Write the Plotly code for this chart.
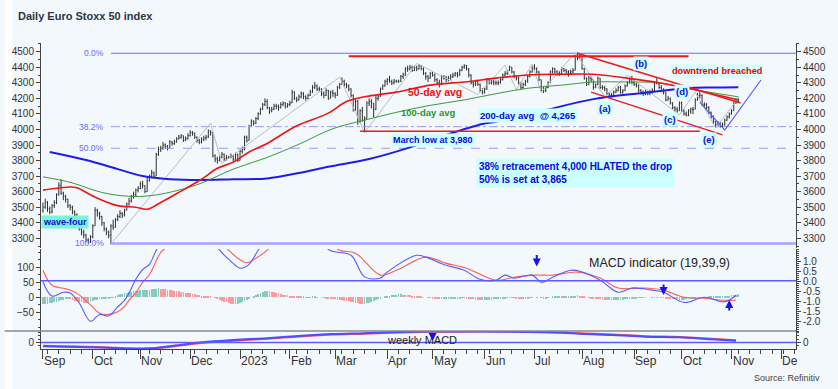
import pandas as pd
import plotly.graph_objects as go

FONT = "Liberation Sans, Arial, sans-serif"

# ---------------- daily Euro Stoxx 50 bars (trading days from 2022-09-01) ----------------
first_open = 3480
close = [
    3500, 3530,
    3490, 3470, 3510, 3530, 3580,
    3640, 3590, 3570, 3550, 3510,
    3500, 3470, 3450, 3420, 3360,
    3340, 3320, 3290, 3280, 3310,
    3380, 3480, 3460, 3440, 3400,
    3360, 3340, 3320, 3380, 3370,
    3420, 3440, 3460, 3450, 3480,
    3520, 3540, 3570, 3580, 3610,
    3620, 3650, 3640, 3600, 3670,
    3700, 3720, 3700, 3840, 3870,
    3880, 3900, 3890, 3880, 3920,
    3910, 3920, 3940, 3950, 3960,
    3930, 3940, 3960, 3980, 3975,
    3950, 3930, 3920, 3935, 3945,
    3950, 3990, 3980, 3830, 3810,
    3800, 3820, 3840, 3810, 3820,
    3820, 3830, 3810, 3840, 3800,
    3860, 3870, 3950, 3930, 4020,
    4050, 4040, 4070, 4100, 4130,
    4160, 4180, 4140, 4120, 4130,
    4150, 4150, 4140, 4160, 4170,
    4150, 4160, 4170, 4240, 4200,
    4190, 4210, 4230, 4210, 4200,
    4220, 4240, 4270, 4280, 4260,
    4260, 4230, 4220, 4250, 4200,
    4240, 4230, 4220, 4270, 4290,
    4310, 4290, 4280, 4260, 4220,
    4130, 4180, 4060, 4120, 4060,
    4070, 4170, 4180, 4170, 4130,
    4200, 4210, 4260, 4280, 4310,
    4320, 4310, 4300, 4310, 4310,
    4310, 4340, 4350, 4390, 4390,
    4400, 4380, 4400, 4390, 4410,
    4390, 4360, 4340, 4330, 4360,
    4350, 4320, 4300, 4290, 4340,
    4330, 4320, 4330, 4340, 4350,
    4360, 4350, 4380, 4400, 4410,
    4390, 4350, 4300, 4290, 4310,
    4290, 4250, 4240, 4260, 4320,
    4300, 4310, 4300, 4300, 4300,
    4320, 4350, 4360, 4380, 4400,
    4370, 4340, 4330, 4300, 4270,
    4290, 4310, 4340, 4370, 4400,
    4390, 4370, 4320, 4250, 4250,
    4270, 4300, 4370, 4390, 4370,
    4360, 4360, 4390, 4380, 4370,
    4360, 4370, 4380, 4470, 4460,
    4470, 4390, 4330, 4290, 4330,
    4320, 4270, 4290, 4330, 4270,
    4270, 4260, 4230, 4220, 4220,
    4240, 4250, 4270, 4240, 4250,
    4280, 4300, 4320, 4300, 4290,
    4280, 4250, 4240, 4230, 4240,
    4230, 4240, 4250, 4300, 4300,
    4270, 4250, 4240, 4190, 4200,
    4170, 4140, 4130, 4120, 4170,
    4120, 4100, 4090, 4120, 4130,
    4130, 4190, 4220, 4220, 4160,
    4160, 4140, 4110, 4080, 4050,
    4030, 4040, 4020, 4030, 4060,
    4080, 4100, 4120, 4170, 4190,
    4180,
]
high = [
    3530, 3555,
    3540, 3505, 3520, 3545, 3590,
    3660, 3680, 3600, 3580, 3555,
    3520, 3510, 3480, 3460, 3425,
    3370, 3355, 3330, 3300, 3320,
    3390, 3500, 3490, 3470, 3445,
    3405, 3370, 3350, 3390, 3420,
    3430, 3455, 3480, 3470, 3490,
    3530, 3560, 3580, 3600, 3620,
    3635, 3665, 3670, 3640, 3690,
    3710, 3740, 3730, 3850, 3890,
    3895, 3920, 3910, 3900, 3930,
    3925, 3935, 3950, 3965, 3970,
    3960, 3955, 3975, 3995, 3990,
    3980, 3955, 3940, 3950, 3960,
    3965, 4000, 3995, 3980, 3840,
    3825, 3835, 3855, 3845, 3835,
    3830, 3845, 3835, 3850, 3845,
    3870, 3890, 3960, 3960, 4030,
    4065, 4060, 4080, 4110, 4140,
    4170, 4200, 4195, 4145, 4145,
    4165, 4165, 4160, 4175, 4180,
    4175, 4170, 4185, 4255, 4245,
    4210, 4225, 4245, 4240, 4220,
    4230, 4255, 4285, 4305, 4290,
    4275, 4265, 4245, 4265, 4255,
    4250, 4255, 4240, 4280, 4300,
    4335, 4320, 4300, 4290, 4265,
    4225, 4195, 4190, 4130, 4145,
    4085, 4180, 4200, 4195, 4170,
    4215, 4225, 4270, 4290, 4320,
    4330, 4345, 4320, 4325, 4320,
    4320, 4350, 4365, 4400, 4410,
    4415, 4410, 4410, 4410, 4420,
    4415, 4400, 4370, 4350, 4370,
    4370, 4360, 4330, 4320, 4350,
    4350, 4345, 4345, 4355, 4365,
    4370, 4370, 4390, 4410, 4420,
    4415, 4395, 4355, 4310, 4320,
    4320, 4295, 4265, 4270, 4330,
    4325, 4320, 4320, 4315, 4315,
    4330, 4360, 4375, 4385, 4410,
    4400, 4375, 4350, 4340, 4305,
    4300, 4320, 4350, 4380, 4410,
    4420, 4400, 4375, 4320, 4275,
    4280, 4310, 4380, 4400, 4395,
    4380, 4375, 4400, 4395, 4390,
    4380, 4385, 4395, 4480, 4495,
    4490, 4470, 4395, 4335, 4345,
    4340, 4320, 4300, 4340, 4330,
    4285, 4280, 4265, 4240, 4235,
    4250, 4265, 4280, 4280, 4260,
    4290, 4310, 4330, 4345, 4325,
    4300, 4290, 4260, 4250, 4255,
    4255, 4255, 4265, 4310, 4330,
    4300, 4285, 4265, 4240, 4215,
    4205, 4175, 4150, 4145, 4180,
    4180, 4130, 4115, 4130, 4140,
    4145, 4200, 4235, 4240, 4225,
    4175, 4170, 4150, 4115, 4090,
    4055, 4055, 4050, 4045, 4070,
    4090, 4110, 4130, 4180, 4200,
    4205,
]
low = [
    3465, 3490,
    3470, 3455, 3460, 3495, 3520,
    3575, 3580, 3545, 3530, 3495,
    3480, 3455, 3435, 3405, 3350,
    3320, 3300, 3275, 3265, 3270,
    3300, 3380, 3440, 3420, 3380,
    3345, 3320, 3300, 3262, 3355,
    3370, 3410, 3430, 3430, 3440,
    3480, 3510, 3530, 3555, 3570,
    3595, 3615, 3620, 3590, 3600,
    3665, 3690, 3690, 3700, 3830,
    3855, 3870, 3875, 3865, 3880,
    3895, 3900, 3915, 3935, 3940,
    3920, 3925, 3935, 3955, 3960,
    3940, 3915, 3905, 3910, 3925,
    3930, 3945, 3960, 3820, 3790,
    3780, 3795, 3815, 3795, 3800,
    3810, 3815, 3795, 3805, 3790,
    3800, 3845, 3865, 3915, 3930,
    4015, 4025, 4035, 4060, 4095,
    4125, 4150, 4130, 4100, 4110,
    4125, 4130, 4120, 4135, 4150,
    4135, 4140, 4150, 4170, 4190,
    4175, 4185, 4200, 4195, 4185,
    4195, 4215, 4235, 4260, 4245,
    4245, 4215, 4200, 4215, 4190,
    4200, 4210, 4200, 4215, 4260,
    4290, 4275, 4265, 4245, 4205,
    4115, 4120, 4030, 4040, 4050,
    3980, 4070, 4150, 4135, 4080,
    4125, 4185, 4210, 4255, 4275,
    4285, 4300, 4285, 4290, 4300,
    4300, 4305, 4325, 4345, 4370,
    4380, 4370, 4375, 4375, 4385,
    4380, 4350, 4320, 4305, 4325,
    4340, 4305, 4290, 4270, 4285,
    4320, 4305, 4310, 4320, 4330,
    4340, 4335, 4345, 4375, 4390,
    4380, 4335, 4290, 4270, 4280,
    4280, 4240, 4225, 4230, 4255,
    4290, 4290, 4285, 4285, 4285,
    4295, 4315, 4340, 4350, 4375,
    4360, 4330, 4315, 4290, 4255,
    4260, 4280, 4300, 4335, 4365,
    4380, 4360, 4310, 4240, 4235,
    4240, 4265, 4300, 4360, 4360,
    4345, 4345, 4355, 4370, 4360,
    4340, 4350, 4360, 4380, 4445,
    4450, 4385, 4320, 4280, 4285,
    4305, 4255, 4265, 4285, 4260,
    4255, 4245, 4220, 4210, 4205,
    4215, 4235, 4245, 4230, 4230,
    4250, 4275, 4295, 4290, 4280,
    4270, 4240, 4225, 4215, 4220,
    4220, 4220, 4230, 4245, 4290,
    4260, 4240, 4225, 4180, 4185,
    4160, 4130, 4115, 4105, 4120,
    4110, 4090, 4085, 4085, 4100,
    4100, 4130, 4185, 4200, 4150,
    4140, 4130, 4100, 4070, 4035,
    4010, 4020, 4012, 4015, 4025,
    4055, 4070, 4095, 4120, 4165,
    4170,
]
# daily MACD histogram (left MACD scale)
hist = [
    -22, -22,
    -21, -20, -18, -16, -14,
    -12, -10, -8, -7, -6,
    -7, -9, -11, -13, -15,
    -17, -18, -19, -18, -16,
    -13, -10, -8, -7, -6,
    -5, -4, -3, -1, 1,
    4, 7, 10, 12, 14,
    16, 18, 19, 20, 21,
    22, 23, 24, 24, 25,
    26, 27, 27, 29, 30,
    29, 28, 27, 26, 25,
    24, 22, 21, 20, 19,
    17, 16, 14, 13, 12,
    10, 8, 7, 6, 5,
    4, 3, 2, 0, -2,
    -5, -8, -11, -14, -17,
    -19, -21, -22, -22, -21,
    -19, -16, -12, -8, -4,
    0, 4, 8, 12, 15,
    18, 20, 21, 20, 19,
    17, 15, 13, 11, 9,
    8, 7, 6, 5, 4,
    3, 3, 2, 2, 1,
    1, 1, 2, 2, 1,
    0, -1, -2, -3, -4,
    -5, -6, -7, -8, -9,
    -10, -11, -12, -13, -15,
    -17, -18, -20, -21, -22,
    -22, -20, -18, -15, -12,
    -9, -6, -3, 0, 2,
    4, 6, 7, 8, 9,
    10, 10, 9, 9, 8,
    7, 6, 5, 4, 3,
    2, 1, 0, -1, -2,
    -3, -4, -5, -5, -6,
    -6, -6, -5, -5, -4,
    -4, -3, -3, -2, -2,
    -3, -4, -6, -7, -8,
    -9, -10, -10, -9, -8,
    -8, -8, -7, -7, -6,
    -5, -4, -3, -2, -1,
    -1, -2, -3, -4, -5,
    -5, -4, -3, -2, -1,
    0, 1, 0, -2, -3,
    -3, -2, 0, 2, 3,
    4, 4, 5, 5, 4,
    4, 4, 5, 6, 7,
    6, 4, 2, 0, -2,
    -3, -4, -5, -6, -7,
    -8, -8, -9, -9, -10,
    -10, -9, -9, -8, -8,
    -7, -6, -5, -4, -3,
    -3, -2, -2, -1, -1,
    0, 0, 1, 1, 1,
    0, -1, -2, -3, -4,
    -5, -6, -7, -7, -8,
    -8, -8, -7, -6, -5,
    -4, -3, -2, -1, 0,
    1, 1, 2, 2, 3,
    3, 3, 4, 4, 5,
    5, 6, 7, 8, 9,
    10,
]

# ---------------- moving averages ----------------
ma50_dates = ['2022-09-01', '2022-09-19', '2022-09-22', '2022-10-04', '2022-10-18', '2022-10-28',
              '2022-11-04', '2022-11-14', '2022-11-24', '2022-12-08', '2022-12-19', '2022-12-28',
              '2023-01-06', '2023-01-18', '2023-01-31', '2023-02-07', '2023-02-24', '2023-03-08',
              '2023-03-20', '2023-04-07', '2023-04-28', '2023-05-19', '2023-06-08', '2023-06-28',
              '2023-07-19', '2023-08-08', '2023-08-29', '2023-09-18', '2023-10-06', '2023-11-06']
ma50 = [3610, 3630, 3625, 3565, 3510, 3500, 3487, 3530, 3595, 3680, 3750, 3790, 3855, 3910, 3990,
        4030, 4105, 4180, 4210, 4240, 4285, 4305, 4330, 4350, 4355, 4355, 4330, 4300, 4260, 4190]
ma100_dates = ['2022-09-01', '2022-09-19', '2022-10-07', '2022-10-25', '2022-11-08', '2022-11-24',
               '2022-12-08', '2022-12-28', '2023-01-18', '2023-02-07', '2023-02-28', '2023-03-20',
               '2023-04-07', '2023-04-28', '2023-05-19', '2023-06-08', '2023-06-28', '2023-07-19',
               '2023-08-08', '2023-08-29', '2023-09-18', '2023-10-06', '2023-11-06']
ma100 = [3695, 3660, 3595, 3570, 3575, 3610, 3655, 3745, 3820, 3905, 4005, 4060, 4110, 4155, 4190,
         4230, 4265, 4285, 4305, 4305, 4300, 4260, 4210]
ma200_dates = ['2022-09-06', '2022-09-28', '2022-10-18', '2022-11-02', '2022-11-18', '2022-12-08',
               '2022-12-28', '2023-01-18', '2023-02-07', '2023-02-24', '2023-03-22', '2023-04-14',
               '2023-05-09', '2023-05-31', '2023-06-08', '2023-07-10', '2023-08-08', '2023-09-07',
               '2023-10-04', '2023-10-20', '2023-11-06']
ma200 = [3855, 3803, 3745, 3700, 3680, 3675, 3680, 3685, 3720, 3760, 3810, 3880, 3965, 4035, 4050,
         4125, 4195, 4235, 4265, 4270, 4272]

# ---------------- Fibonacci retracement ----------------
fib_start = '2022-10-13'
fib_levels = [4490, 4018, 3879, 3267]
fib_labels = ['0.0%', '38.2%', '50.0%', '100.0%']

# ---------------- drawn trend lines ----------------
top_res_dates, top_res = ['2023-03-09', '2023-10-05'], [4470, 4470]
march_low_dates, march_low = ['2023-03-16', '2023-10-12'], [3988, 3988]
downtrend_dates, downtrend = ['2023-07-28', '2023-11-07'], [4490, 4170]
lower_dates, lower_chan = ['2023-08-07', '2023-10-26'], [4240, 3965]
proj_dates, proj = ['2023-10-12', '2023-10-27', '2023-11-20'], [4176, 3996, 4318]
zz_dates = ['2022-10-13', '2022-12-14', '2022-12-21', '2023-03-03', '2023-03-20', '2023-04-20',
            '2023-05-29', '2023-06-14', '2023-06-21', '2023-06-30', '2023-07-06', '2023-07-27',
            '2023-08-15', '2023-08-29', '2023-09-29', '2023-10-10', '2023-10-23', '2023-11-06']
zz_vals = [3262, 4040, 3783, 4337, 3980, 4425, 4225, 4413, 4255, 4420, 4240, 4494, 4210, 4350,
           4093, 4240, 4010, 4202]

# ---------------- MACD (19,39,9) lines ----------------
macd_b_dates = ['2022-09-01', '2022-09-07', '2022-09-14', '2022-09-19', '2022-09-23', '2022-09-30',
                '2022-10-06', '2022-10-12', '2022-10-18', '2022-10-21', '2022-10-25', '2022-10-28',
                '2022-11-02', '2022-11-07', '2022-11-10', '2022-11-16', '2022-11-25', '2022-12-05',
                '2022-12-12', '2022-12-20', '2022-12-27', '2023-01-02', '2023-01-06', '2023-01-12',
                '2023-01-20', '2023-02-01', '2023-02-15', '2023-02-24', '2023-03-10', '2023-03-20',
                '2023-03-29', '2023-04-03', '2023-04-20', '2023-04-26', '2023-05-09', '2023-05-19',
                '2023-05-30', '2023-06-08', '2023-06-14', '2023-06-20', '2023-06-30', '2023-07-06',
                '2023-07-13', '2023-07-25', '2023-07-31', '2023-08-11', '2023-08-23', '2023-08-31',
                '2023-09-13', '2023-09-20', '2023-10-03', '2023-10-16', '2023-10-27', '2023-11-03']
macd_b = [52, 4, 17, 14, -19, -80, -57, -62, -32, -10, 14, 60, 92, 110, 157, 210, 280, 270, 230, 157,
          120, 97, 110, 157, 220, 300, 260, 160, 140, 68, 64, 84, 140, 134, 107, 90, 60, 57, 74, 64,
          74, 50, 67, 90, 87, 57, 17, 31, 24, 17, -17, 0, -15, 7]
macd_r_dates = ['2022-09-01', '2022-09-07', '2022-09-14', '2022-09-19', '2022-09-23', '2022-09-30',
                '2022-10-06', '2022-10-12', '2022-10-18', '2022-10-21', '2022-10-25', '2022-10-28',
                '2022-11-02', '2022-11-07', '2022-11-14', '2022-11-17', '2022-11-25', '2022-12-05',
                '2022-12-12', '2022-12-19', '2022-12-26', '2023-01-02', '2023-01-05', '2023-01-11',
                '2023-01-18', '2023-01-25', '2023-02-01', '2023-02-15', '2023-02-22', '2023-03-03',
                '2023-03-14', '2023-03-29', '2023-04-07', '2023-04-26', '2023-05-09', '2023-05-22',
                '2023-06-08', '2023-06-20', '2023-07-03', '2023-07-13', '2023-07-28', '2023-08-11',
                '2023-08-23', '2023-09-08', '2023-09-20', '2023-10-03', '2023-10-16', '2023-10-27',
                '2023-11-03']
macd_r = [90, 40, 30, 24, 8, -25, -53, -57, -48, -30, -10, 15, 50, 75, 150, 170, 230, 260, 240, 200,
          157, 125, 115, 130, 157, 200, 260, 250, 200, 157, 147, 74, 90, 134, 113, 97, 57, 67, 74, 74,
          84, 64, 31, 31, 24, 0, -3, -10, -10]
macd_zero = 55

# ---------------- weekly MACD ----------------
wk_dates = ['2022-09-01', '2022-10-07', '2022-10-25', '2022-11-08', '2022-11-29', '2022-12-08',
            '2022-12-28', '2023-01-18', '2023-02-07', '2023-02-28', '2023-03-20', '2023-04-18',
            '2023-05-09', '2023-06-14', '2023-07-19', '2023-07-31', '2023-08-21', '2023-09-08',
            '2023-09-29', '2023-10-19', '2023-11-03']
wk_blue = [-22, -30, -37, -35, -10, 1, 15, 26, 39, 51, 56, 65, 66, 65, 59, 52, 45, 35, 31, 19, 11]
wk_red = [-20, -28, -35, -37, -14, -3, 11, 22, 36, 48, 53, 62, 65, 66, 61, 55, 48, 38, 33, 22, 13]

# ---------------- axis labels ----------------
month_ticks = ['2022-09-01', '2022-10-03', '2022-11-01', '2022-12-01', '2023-01-02', '2023-02-01',
               '2023-03-01', '2023-04-03', '2023-05-01', '2023-06-01', '2023-07-03', '2023-08-01',
               '2023-09-01', '2023-10-02', '2023-11-01', '2023-12-01']
month_labels = ['Sep', 'Oct', 'Nov', 'Dec', '2023', 'Feb', 'Mar', 'Apr', 'May', 'Jun', 'Jul', 'Aug',
                'Sep', 'Oct', 'Nov', 'De']
price_ticks = [3300, 3400, 3500, 3600, 3700, 3800, 3900, 4000, 4100, 4200, 4300, 4400, 4500]
macd_left_ticks = [100, 50, 0, -50]
macd_right_ticks = [1.0, 0.5, 0.0, -0.5, -1.0, -1.5, -2.0]
macd_right_text = ['1.0', '0.5', '0.0', '-0.5', '-1.0', '-1.5', '-2.0']

# ======================================================================
dates = pd.bdate_range('2022-09-01', periods=len(close))
opens = [first_open] + close[:-1]

X0, X1 = '2022-08-31 03:07', '2023-12-11 11:17'
BG = '#f3f8fc'
AX = '#444444'
CYAN = '#ccffff'
BLUE_T = '#0a0ad8'

fig = go.Figure()

# price panel
fib_styles = [('#6c6cff', 1.2, 'solid'), ('#9a9aff', 1, 'dashdot'), ('#9a9aff', 1, 'dash'),
              ('#a4a4ff', 2.4, 'solid')]
for lvl, (col, wd, ds) in zip(fib_levels, fib_styles):
    fig.add_trace(go.Scatter(x=[fib_start, X1], y=[lvl, lvl], mode='lines',
                             line=dict(color=col, width=wd, dash=ds), xaxis='x', yaxis='y',
                             hoverinfo='skip'))

fig.add_trace(go.Scatter(x=zz_dates, y=zz_vals, mode='lines', line=dict(color='#bdbdbd', width=1),
                         xaxis='x', yaxis='y', hoverinfo='skip'))
fig.add_trace(go.Scatter(x=ma200_dates, y=ma200, mode='lines', line=dict(color='#1c1cee', width=2),
                         line_shape='spline', xaxis='x', yaxis='y', hoverinfo='skip'))
fig.add_trace(go.Scatter(x=ma100_dates, y=ma100, mode='lines', line=dict(color='#3a9a3a', width=1),
                         line_shape='spline', xaxis='x', yaxis='y', hoverinfo='skip'))
fig.add_trace(go.Scatter(x=ma50_dates, y=ma50, mode='lines', line=dict(color='#ee1515', width=1.6),
                         line_shape='spline', xaxis='x', yaxis='y', hoverinfo='skip'))
for xs, ys, wd in [(top_res_dates, top_res, 2), (march_low_dates, march_low, 1.6),
                   (downtrend_dates, downtrend, 1.4), (lower_dates, lower_chan, 1.4)]:
    fig.add_trace(go.Scatter(x=xs, y=ys, mode='lines', line=dict(color='#f01818', width=wd),
                             xaxis='x', yaxis='y', hoverinfo='skip'))
fig.add_trace(go.Scatter(x=proj_dates, y=proj, mode='lines', line=dict(color='#5a5aff', width=1.2),
                         xaxis='x', yaxis='y', hoverinfo='skip'))

fig.add_trace(go.Ohlc(x=dates, open=opens, high=high, low=low, close=close, tickwidth=0.35,
                      increasing=dict(line=dict(color='#303030', width=1)),
                      decreasing=dict(line=dict(color='#303030', width=1)),
                      xaxis='x', yaxis='y', hoverinfo='skip'))

# MACD panel
bar_cols = ['#5cb8a5' if i == 0 or hist[i] >= hist[i - 1] else '#ff7474' for i in range(len(hist))]
fig.add_trace(go.Bar(x=dates, y=hist, marker=dict(color=bar_cols, line=dict(width=0)), opacity=0.7,
                     width=0.35 * 86400000, xaxis='x', yaxis='y2', hoverinfo='skip'))
fig.add_trace(go.Scatter(x=macd_r_dates, y=macd_r, mode='lines', line=dict(color='#ff5a5a', width=1.1),
                         line_shape='spline', xaxis='x', yaxis='y2', hoverinfo='skip'))
fig.add_trace(go.Scatter(x=macd_b_dates, y=macd_b, mode='lines', line=dict(color='#5a5aff', width=1.1),
                         line_shape='spline', xaxis='x', yaxis='y2', hoverinfo='skip'))

# weekly MACD panel
fig.add_trace(go.Scatter(x=wk_dates, y=wk_red, mode='lines', line=dict(color='#ff4d4d', width=2),
                         line_shape='spline', xaxis='x', yaxis='y3', hoverinfo='skip'))
fig.add_trace(go.Scatter(x=wk_dates, y=wk_blue, mode='lines', line=dict(color='#4d4dff', width=2),
                         line_shape='spline', fill='tonexty', fillcolor='rgba(170,170,255,0.45)',
                         xaxis='x', yaxis='y3', hoverinfo='skip'))

# invisible anchors for the right-hand axes
for ax, val in [('y4', 4000), ('y5', 0), ('y6', 0)]:
    fig.add_trace(go.Scatter(x=[dates[0]], y=[val], mode='markers', marker=dict(opacity=0),
                             xaxis='x', yaxis=ax, hoverinfo='skip'))

# ---------------- layout ----------------
PLOT_H = 306.0
def py(px):  # pixel row -> paper y
    return (349 - px) / PLOT_H
def px_(x):  # pixel column -> paper x
    return (x - 37) / 769.0

tickfont = dict(size=10, color='#333333', family=FONT)
common_y = dict(showgrid=False, zeroline=False, showline=True, linecolor=AX, linewidth=1,
                ticks='outside', tickcolor=AX, ticklen=4, tickfont=tickfont, anchor='x',
                fixedrange=True)
price_minor = dict(tickmode='linear', tick0=0, dtick=50, ticks='outside', ticklen=2, tickcolor=AX)
P_RANGE = [3237.6, 4556]
M_RANGE = [-112.3, 161]
MR_RANGE = [-2.5, 1.6]
W_RANGE = [-39, 69]

weekly_minor = list(pd.date_range('2022-09-05', '2023-12-11', freq='W-MON'))

fig.update_layout(
    width=838, height=389, margin=dict(l=37, r=32, t=43, b=40),
    paper_bgcolor=BG, plot_bgcolor=BG, showlegend=False, hovermode=False,
    font=dict(family=FONT, color='#333333'),
    title=dict(text='<b>Daily Euro Stoxx 50 index</b>', x=18 / 838, xanchor='left', xref='container',
               y=1 - 16 / 389, yref='container', yanchor='middle',
               font=dict(size=11, color='#2b3645', family=FONT)),
    bargap=0,
    xaxis=dict(domain=[0, 1], anchor='y3', range=[X0, X1], type='date',
               rangebreaks=[dict(bounds=['sat', 'mon'])], rangeslider=dict(visible=False),
               showgrid=False, zeroline=False, showline=True, linecolor=AX, linewidth=1,
               ticks='outside', ticklen=9, tickcolor=AX, tickvals=month_ticks, showticklabels=False,
               minor=dict(tickvals=weekly_minor, ticks='outside', ticklen=4, tickcolor=AX),
               fixedrange=True),
    yaxis=dict(common_y, domain=[py(248), 1], range=P_RANGE, tickvals=price_ticks, minor=price_minor),
    yaxis4=dict(common_y, overlaying='y', side='right', range=P_RANGE, tickvals=price_ticks,
                minor=price_minor),
    yaxis2=dict(common_y, domain=[py(331), py(249)], range=M_RANGE, tickvals=macd_left_ticks,
                minor=dict(tickmode='linear', tick0=0, dtick=25, ticks='outside', ticklen=2,
                           tickcolor=AX)),
    yaxis5=dict(common_y, overlaying='y2', side='right', range=MR_RANGE, tickvals=macd_right_ticks,
                ticktext=macd_right_text,
                minor=dict(tickmode='linear', tick0=0, dtick=0.1, ticks='outside', ticklen=2,
                           tickcolor=AX)),
    yaxis3=dict(common_y, domain=[0, py(331)], range=W_RANGE, tickvals=[0],
                minor=dict(tickmode='linear', tick0=0, dtick=20, ticks='outside', ticklen=2,
                           tickcolor=AX)),
    yaxis6=dict(common_y, overlaying='y3', side='right', range=W_RANGE, tickvals=[0],
                minor=dict(tickmode='linear', tick0=0, dtick=20, ticks='outside', ticklen=2,
                           tickcolor=AX)),
)

shapes = [
    dict(type='rect', xref='paper', yref='paper', x0=px_(0), x1=px_(8), y0=py(389), y1=py(0),
         fillcolor='white', line=dict(width=0), layer='below'),
    dict(type='line', xref='paper', yref='y2', x0=0, x1=1, y0=macd_zero, y1=macd_zero,
         line=dict(color='#5b5bff', width=1.5)),
    dict(type='line', xref='paper', yref='y3', x0=0, x1=1, y0=0, y1=0,
         line=dict(color='#5b5bff', width=1.5)),
    dict(type='line', xref='paper', yref='paper', x0=px_(0), x1=1, y0=py(331), y1=py(331),
         line=dict(color='#8a8a8a', width=1.5)),
]
fig.update_layout(shapes=shapes)

ann = []
def label(text, x, y, color=BLUE_T, size=9.5, bg=CYAN, xanchor='center', xref='x', yref='y',
          align='center', pad=1):
    d = dict(text=text, x=x, y=y, xref=xref, yref=yref, showarrow=False, xanchor=xanchor,
             yanchor='middle', align=align, font=dict(size=size, color=color, family=FONT),
             borderpad=pad)
    if bg:
        d['bgcolor'] = bg
    ann.append(d)

label('<b>50-day avg</b>', '2023-05-02', 4241, color='#ee1111', size=10.5, bg=None)
label('<b>100-day avg</b>', '2023-04-27', 4112, color='#2a962a', size=9.5, bg=None)
label('<b>200-day avg&nbsp; @ 4,265</b>', '2023-06-28', 4087, size=9.5)
label('<b>March low at 3,980</b>', '2023-05-01', 3935, size=9)
label('<b>38% retracement 4,000 HLATED the drop<br>50% is set at 3,865</b>', '2023-05-26', 3720,
      size=10, xanchor='left', align='left', pad=2)
label('<b>wave-four</b>', 0, 3408, xref='paper', xanchor='left', bg='#7af5d5', size=9)
label('<b>downtrend breached</b>', '2023-10-23 12:00', 4376, color='#ee0000', bg='#d5ffff', size=9.2)
for t, xd, yv in [('(a)', '2023-08-15', 4138), ('(b)', '2023-09-06', 4421), ('(c)', '2023-09-25', 4061),
                  ('(d)', '2023-10-02', 4241), ('(e)', '2023-10-18', 3938)]:
    label('<b>%s</b>' % t, xd, yv, size=9.5)

for lvl, txt in zip(fib_levels, fib_labels):
    ann.append(dict(text=txt, x=fib_start, y=lvl, xref='x', yref='y', showarrow=False,
                    xanchor='right', yanchor='middle', xshift=-5,
                    font=dict(size=8.5, color='#6a6aff', family=FONT)))

ann.append(dict(text='MACD indicator (19,39,9)', x='2023-08-03', y=114, xref='x', yref='y2',
                showarrow=False, xanchor='left', yanchor='middle',
                font=dict(size=12.5, color='#222222', family=FONT)))
ann.append(dict(text='weekly MACD', x='2023-03-31', y=18, xref='x', yref='y3', showarrow=False,
                xanchor='left', yanchor='middle', font=dict(size=11, color='#222222', family=FONT)))
ann.append(dict(text='Source: Refinitiv', x=px_(832), y=py(378), xref='paper', yref='paper',
                showarrow=False, xanchor='right', yanchor='middle',
                font=dict(size=9, color='#444444', family=FONT)))

for xd, yv, yr, ay in [('2023-07-04', 103, 'y2', -13), ('2023-09-20', 8, 'y2', -12),
                       ('2023-10-31', -9, 'y2', 12), ('2023-05-01', 9, 'y3', -9)]:
    ann.append(dict(text='', x=xd, y=yv, xref='x', yref=yr, showarrow=True, ax=0, ay=ay,
                    arrowhead=2, arrowsize=0.8, arrowwidth=2, arrowcolor='#1414e6', standoff=0))

for xd, txt in zip(month_ticks, month_labels):
    ann.append(dict(text=txt, x=xd, y=py(361), xref='x', yref='paper', showarrow=False,
                    xanchor='left', yanchor='middle', xshift=-1,
                    font=dict(size=12, color='#333333', family=FONT)))

fig.update_layout(annotations=ann)
fig.write_html('out.html', config={'displayModeBar': False},
               post_script="document.body.style.margin='0px';")
